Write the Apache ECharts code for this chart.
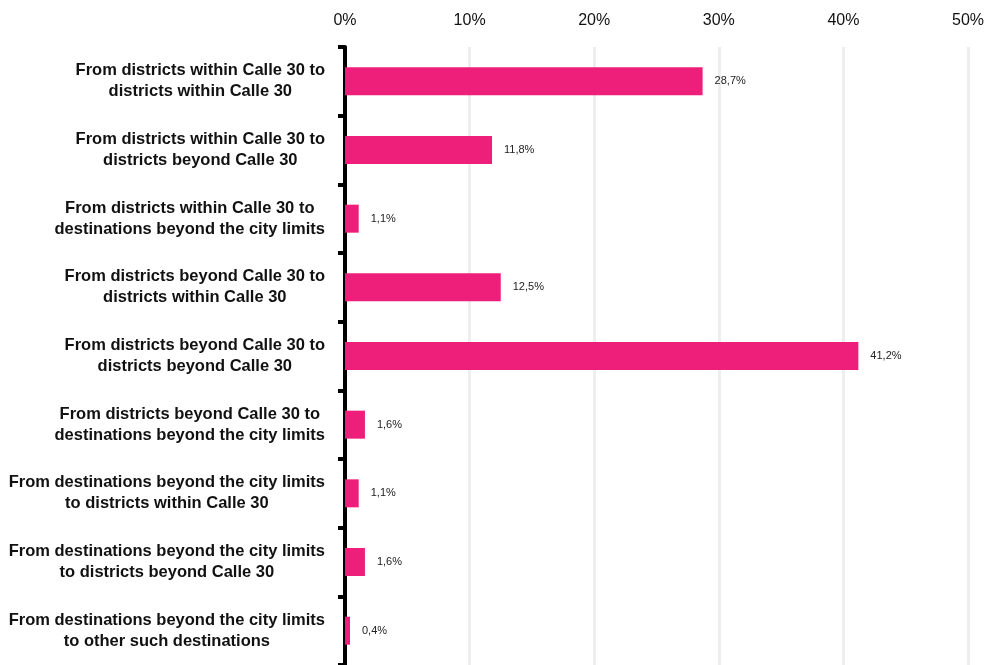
<!DOCTYPE html>
<html>
<head>
<meta charset="utf-8">
<script src="https://cdn.jsdelivr.net/npm/echarts@6/dist/echarts.min.js"></script>
<style>
  html, body { margin: 0; padding: 0; background: #fff; }
  #chart { width: 993px; height: 665px; }
</style>
</head>
<body>
<div id="chart"></div>
<script>
  var categories = [
    'From districts within Calle 30 to\ndistricts within Calle 30',
    'From districts within Calle 30 to\ndistricts beyond Calle 30',
    'From districts within Calle 30 to\ndestinations beyond the city limits',
    'From districts beyond Calle 30 to\ndistricts within Calle 30',
    'From districts beyond Calle 30 to\ndistricts beyond Calle 30',
    'From districts beyond Calle 30 to\ndestinations beyond the city limits',
    'From destinations beyond the city limits\nto districts within Calle 30',
    'From destinations beyond the city limits\nto districts beyond Calle 30',
    'From destinations beyond the city limits\nto other such destinations'
  ];
  var shares = [28.7, 11.8, 1.1, 12.5, 41.2, 1.6, 1.1, 1.6, 0.4];
  var xTicks = [0, 10, 20, 30, 40, 50];

  var chart = echarts.init(document.getElementById('chart'));
  var font = '"Liberation Sans", Helvetica, Arial, sans-serif';

  chart.setOption({
    animation: false,
    grid: { left: 345, right: 25, top: 47, bottom: 0, containLabel: false },
    xAxis: {
      type: 'value',
      position: 'top',
      min: xTicks[0],
      max: xTicks[xTicks.length - 1],
      interval: 10,
      axisLine: { show: false },
      axisTick: { show: false },
      axisLabel: {
        margin: 18,
        fontFamily: font,
        fontSize: 16,
        color: '#111',
        formatter: function (v) { return v + '%'; }
      },
      splitLine: { show: true, lineStyle: { color: '#eeeeee', width: 3 } }
    },
    yAxis: {
      type: 'category',
      inverse: true,
      data: categories,
      axisLine: { show: true, lineStyle: { color: '#000', width: 4 } },
      axisTick: { show: true, length: 7, lineStyle: { color: '#000', width: 4 } },
      axisLabel: {
        margin: 20,
        align: 'right',
        // each line centred inside the right-aligned block
        formatter: function (v) {
          return v.split('\n').map(function (s) { return '{c|' + s + '}'; }).join('\n');
        },
        rich: {
          c: {
            align: 'center',
            fontFamily: font,
            fontSize: 16.5,
            fontWeight: 'bold',
            color: '#111',
            lineHeight: 21
          }
        }
      }
    },
    series: [{
      type: 'bar',
      data: shares,
      barWidth: 28,
      itemStyle: { color: '#EE1F7A' },
      label: {
        show: true,
        position: 'right',
        distance: 12,
        fontFamily: font,
        fontSize: 11,
        color: '#222',
        formatter: function (p) { return p.value.toFixed(1).replace('.', ',') + '%'; }
      }
    }]
  });
</script>
</body>
</html>
